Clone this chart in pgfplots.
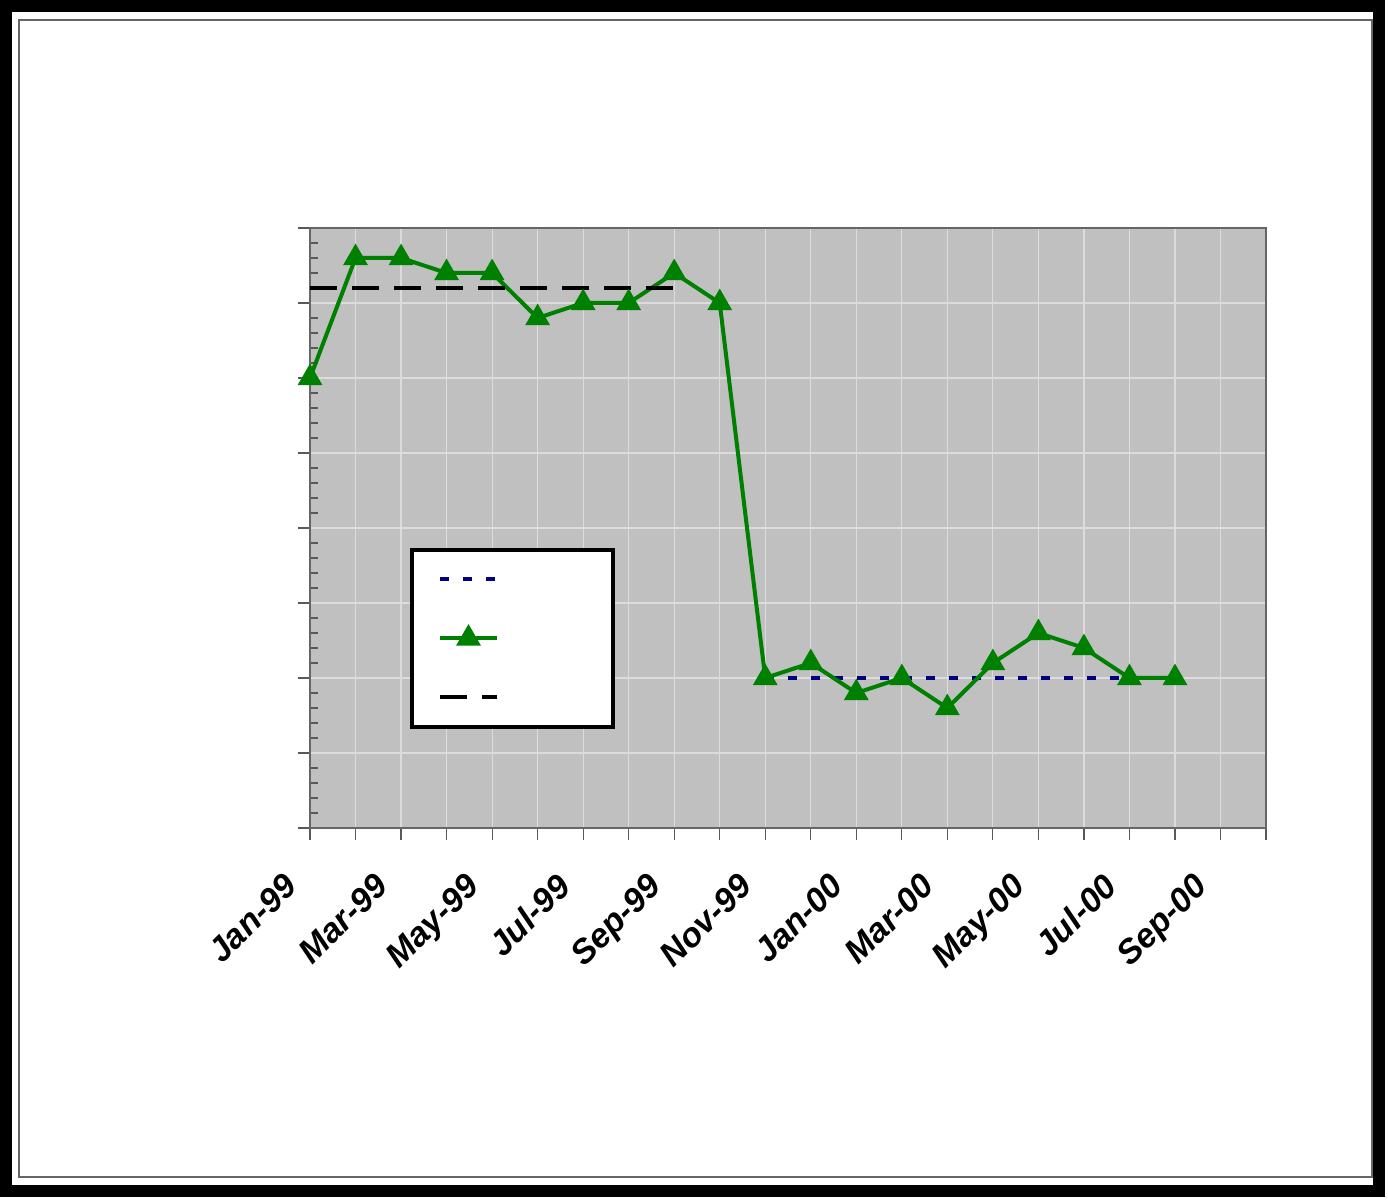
\documentclass[border=0pt]{standalone}
\usepackage{fontspec}
\setmainfont{Liberation Sans}
\usepackage{pgfplots}
\pgfplotsset{compat=1.18}
\definecolor{plotbg}{HTML}{C0C0C0}
\definecolor{gridc}{HTML}{DCDCDC}
\definecolor{sgreen}{HTML}{008000}
\definecolor{snavy}{HTML}{000080}
\begin{document}
\begin{tikzpicture}[x=1bp,y=1bp]
\useasboundingbox (0,0) rectangle (694,600);
\fill[white] (0,0) rectangle (694,600);
\draw[line width=6bp] (3,4.5) rectangle (689.5,597);
\draw[line width=0.6bp, black!60] (9.5,11.5) rectangle (686,590);
\begin{axis}[
  at={(155bp,186bp)}, anchor=south west,
  width=478bp, height=300bp, scale only axis,
  xmin=0, xmax=21, ymin=0, ymax=8,
  clip=false,
  axis background/.style={fill=plotbg},
  axis line style={black!60, line width=0.6bp},
  tick pos=left,
  xtick={0,...,21},
  xticklabels={Jan-99,,Mar-99,,May-99,,Jul-99,,Sep-99,,Nov-99,,Jan-00,,Mar-00,,May-00,,Jul-00,,Sep-00,},
  ytick={0,...,8}, yticklabels={},
  minor y tick num=4,
  xmajorgrids, ymajorgrids,
  grid style={gridc, line width=0.6bp},
  tick align=outside,
  major tick length=6bp, minor tick length=4bp,
  tick style={black!65, line width=0.6bp},
  minor y tick style={xshift=4bp},
  xticklabel style={font=\fontsize{17bp}{19bp}\selectfont\bfseries\itshape, xshift=-14bp, yshift=-15.5bp, rotate=45, anchor=north east, inner sep=0pt},
  legend style={at={(0.1046,0.4667)}, anchor=north west, draw=black, line width=2bp, fill=white,
     inner xsep=13bp, inner ysep=0bp, row sep=0pt,
     nodes={inner sep=0pt, minimum height=29.5bp, text width=44bp}},
  legend cell align=left,
  legend image code/.code={\draw[mark repeat=2,mark phase=2] plot coordinates {(0bp,0bp) (14.25bp,0bp) (28.5bp,0bp)};},
]
\addplot[snavy, line width=2bp, dash pattern=on 4.5bp off 7bp] coordinates {(10,2) (19,2)};
\addlegendentry{}
\addplot[sgreen, line width=2bp, mark=triangle*, mark size=5.2bp, mark options={solid}] coordinates {
(0,6) (1,7.6) (2,7.6) (3,7.4) (4,7.4) (5,6.8) (6,7) (7,7) (8,7.4) (9,7)
(10,2) (11,2.2) (12,1.8) (13,2) (14,1.6) (15,2.2) (16,2.6) (17,2.4) (18,2) (19,2)};
\addlegendentry{}
\addplot[black, line width=2bp, dash pattern=on 13.5bp off 7.5bp] coordinates {(0,7.2) (8,7.2)};
\addlegendentry{}
\end{axis}
\end{tikzpicture}
\end{document}
